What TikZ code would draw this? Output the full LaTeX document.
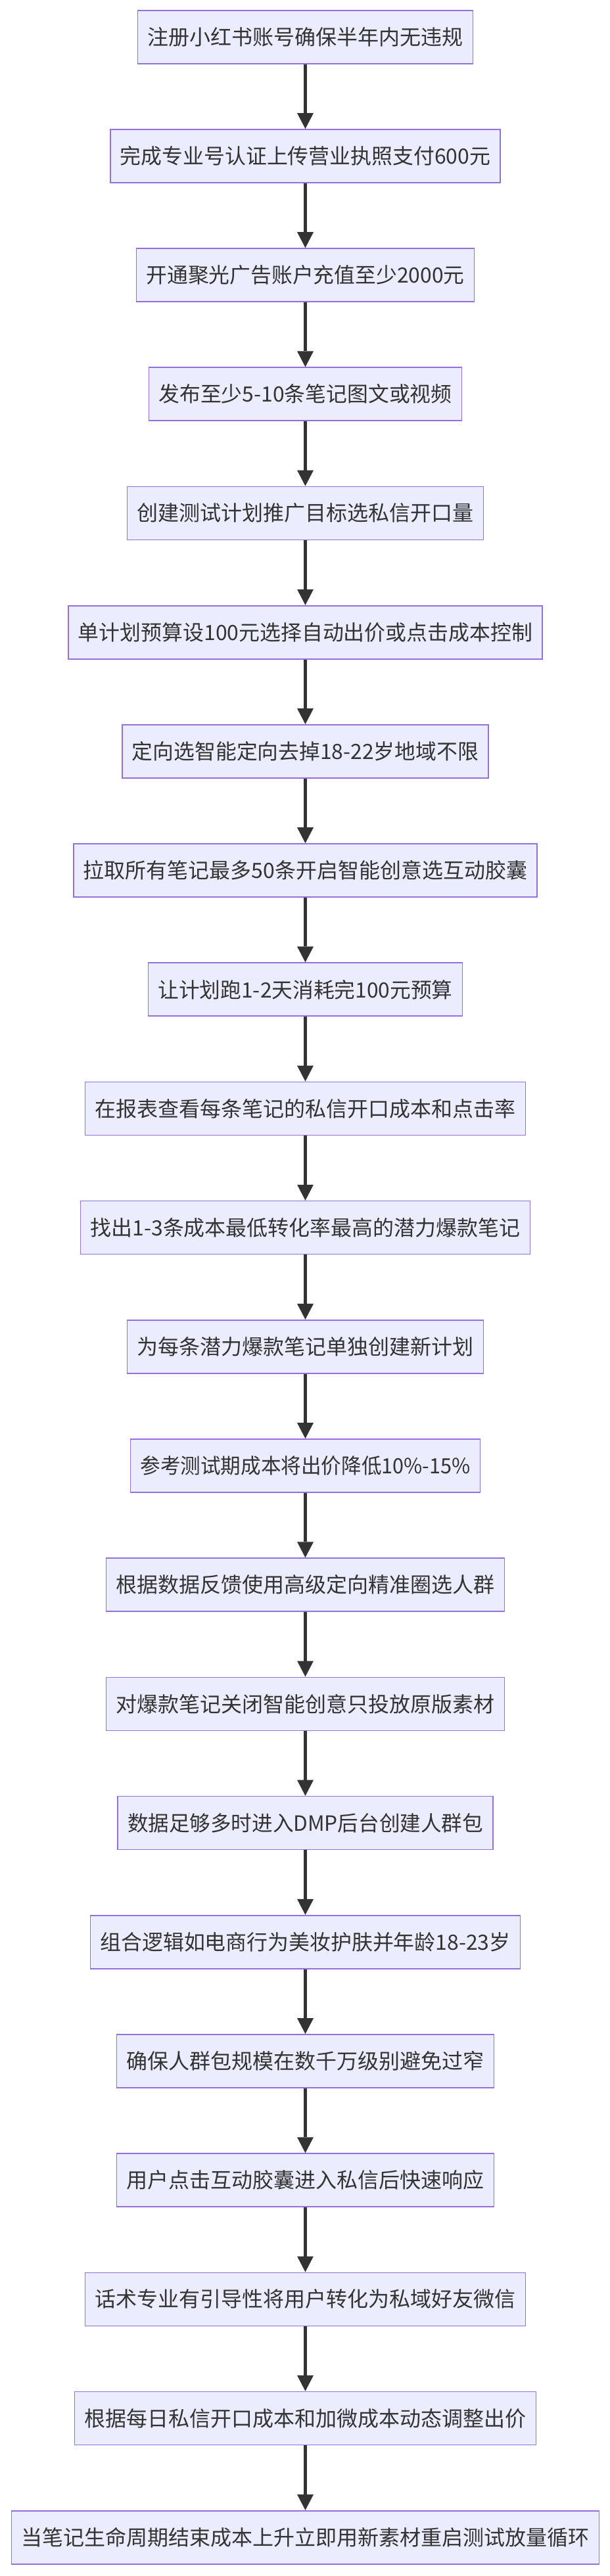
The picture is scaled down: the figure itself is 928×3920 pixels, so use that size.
\documentclass[tikz,border=0pt]{standalone}
\usepackage{fontspec}
\usepackage{graphicx}
\newfontfamily\cjk{Noto Sans CJK SC}
\usetikzlibrary{arrows.meta}
\definecolor{boxfill}{HTML}{ECECFF}
\definecolor{boxline}{HTML}{9370DB}
\definecolor{inkc}{HTML}{333333}
\newcommand{\fitw}[2]{\resizebox{#1}{\height}{#2}}
\begin{document}
\begin{tikzpicture}[x=1pt,y=1pt,
  flowbox/.style={draw=boxline, line width=1.7pt, fill=boxfill, minimum height=81pt,
    inner sep=0pt, text=inkc, font=\cjk\fontsize{32pt}{32pt}\selectfont},
  flowarrow/.style={draw=inkc, line width=4.3pt, -{Triangle[width=25pt,length=24pt,line width=0pt]}}]
\useasboundingbox (0,0) rectangle (928,-3920);
\node[flowbox, minimum width=510pt] (n1) at (464.5,-56.2) {\fitw{480pt}{注册小红书账号确保半年内无违规}};
\node[flowbox, minimum width=593pt] (n2) at (464.5,-237.39) {\fitw{563pt}{完成专业号认证上传营业执照支付600元}};
\node[flowbox, minimum width=514pt] (n3) at (464.5,-418.58) {\fitw{484pt}{开通聚光广告账户充值至少2000元}};
\node[flowbox, minimum width=476pt] (n4) at (464.5,-599.77) {\fitw{446pt}{发布至少5-10条笔记图文或视频}};
\node[flowbox, minimum width=542pt] (n5) at (464.5,-780.96) {\fitw{512pt}{创建测试计划推广目标选私信开口量}};
\node[flowbox, minimum width=721pt] (n6) at (464.5,-962.15) {\fitw{691pt}{单计划预算设100元选择自动出价或点击成本控制}};
\node[flowbox, minimum width=557pt] (n7) at (464.5,-1143.34) {\fitw{527pt}{定向选智能定向去掉18-22岁地域不限}};
\node[flowbox, minimum width=705pt] (n8) at (464.5,-1324.53) {\fitw{675pt}{拉取所有笔记最多50条开启智能创意选互动胶囊}};
\node[flowbox, minimum width=478pt] (n9) at (464.5,-1505.72) {\fitw{448pt}{让计划跑1-2天消耗完100元预算}};
\node[flowbox, minimum width=670pt] (n10) at (464.5,-1686.91) {\fitw{640pt}{在报表查看每条笔记的私信开口成本和点击率}};
\node[flowbox, minimum width=684pt] (n11) at (464.5,-1868.10) {\fitw{654pt}{找出1-3条成本最低转化率最高的潜力爆款笔记}};
\node[flowbox, minimum width=542pt] (n12) at (464.5,-2049.29) {\fitw{512pt}{为每条潜力爆款笔记单独创建新计划}};
\node[flowbox, minimum width=532pt] (n13) at (464.5,-2230.48) {\fitw{502pt}{参考测试期成本将出价降低10\%-15\%}};
\node[flowbox, minimum width=606pt] (n14) at (464.5,-2411.67) {\fitw{576pt}{根据数据反馈使用高级定向精准圈选人群}};
\node[flowbox, minimum width=606pt] (n15) at (464.5,-2592.86) {\fitw{576pt}{对爆款笔记关闭智能创意只投放原版素材}};
\node[flowbox, minimum width=571pt] (n16) at (464.5,-2774.05) {\fitw{541pt}{数据足够多时进入DMP后台创建人群包}};
\node[flowbox, minimum width=654pt] (n17) at (464.5,-2955.24) {\fitw{624pt}{组合逻辑如电商行为美妆护肤并年龄18-23岁}};
\node[flowbox, minimum width=574pt] (n18) at (464.5,-3136.43) {\fitw{544pt}{确保人群包规模在数千万级别避免过窄}};
\node[flowbox, minimum width=574pt] (n19) at (464.5,-3317.62) {\fitw{544pt}{用户点击互动胶囊进入私信后快速响应}};
\node[flowbox, minimum width=670pt] (n20) at (464.5,-3498.81) {\fitw{640pt}{话术专业有引导性将用户转化为私域好友微信}};
\node[flowbox, minimum width=702pt] (n21) at (464.5,-3680.00) {\fitw{672pt}{根据每日私信开口成本和加微成本动态调整出价}};
\node[flowbox, minimum width=894pt] (n22) at (464.5,-3861.19) {\fitw{864pt}{当笔记生命周期结束成本上升立即用新素材重启测试放量循环}};
\foreach \a/\b in {n1/n2,n2/n3,n3/n4,n4/n5,n5/n6,n6/n7,n7/n8,n8/n9,n9/n10,n10/n11,n11/n12,n12/n13,n13/n14,n14/n15,n15/n16,n16/n17,n17/n18,n18/n19,n19/n20,n20/n21,n21/n22}
  \draw[flowarrow] (\a.south) -- (\b.north);
\end{tikzpicture}
\end{document}
